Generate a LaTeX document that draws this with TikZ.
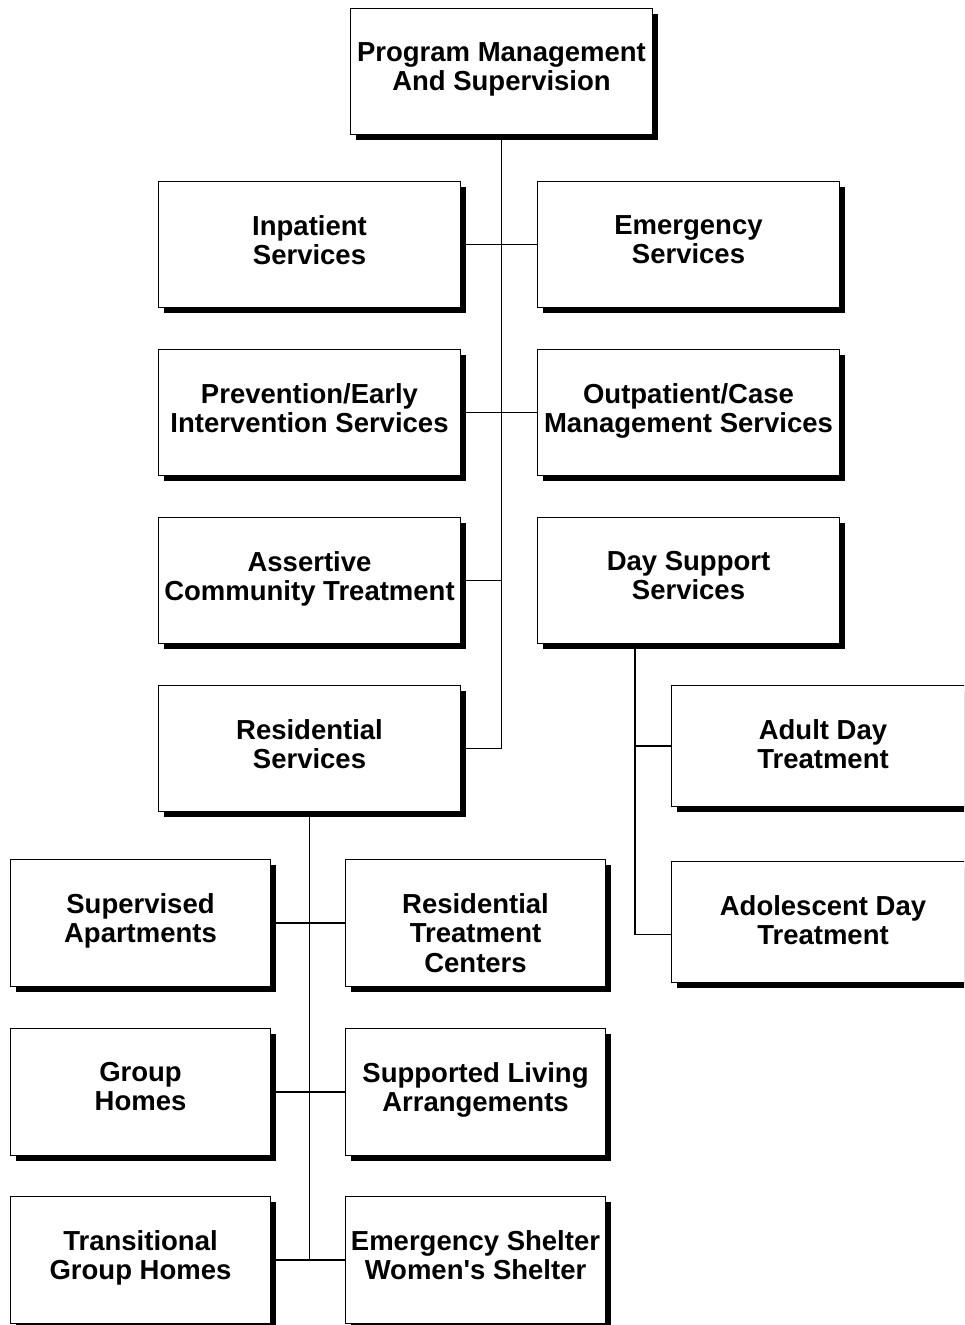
\documentclass[tikz,border=0pt]{standalone}
\usepackage{fontspec}
\setmainfont{Liberation Sans}[Ligatures=TeXOff]
\usetikzlibrary{shadows}
\begin{document}
\begin{tikzpicture}[x=1pt,y=-1pt,
  box/.style={draw, line width=1pt, fill=white, inner sep=0pt, anchor=north west,
    minimum width=302pt, minimum height=126pt,
    drop shadow={shadow xshift=5pt, shadow yshift=-5pt, fill=black, opacity=1}},
  smallbox/.style={box, minimum width=260pt, minimum height=127pt},
  subbox/.style={box, minimum width=303pt, minimum height=121pt},
  lbl/.style={font=\bfseries\fontsize{27.5}{29.5}\selectfont, align=center, inner sep=0pt, anchor=north},
  conn/.style={line width=1.6pt}]
\clip (0,0) rectangle (964,1325);
\fill[white] (0,0) rectangle (964,1325);
\coordinate (dj) at (635,643);
% boxes
\node[box] (top) at (350,8) {};
\node[box] (inp) at (158,181) {};
\node[box] (eme) at (537,181) {};
\node[box] (pre) at (158,349) {};
\node[box] (out) at (537,349) {};
\node[box] (ass) at (158,517) {};
\node[box] (day) at (537,517) {};
\node[box] (res) at (158,685) {};
\node[subbox] (adu) at (671,685) {};
\node[subbox] (ado) at (671,861) {};
\node[smallbox] (sup) at (10,859) {};
\node[smallbox] (rtc) at (345,859) {};
\node[smallbox] (grp) at (10,1028) {};
\node[smallbox] (sla) at (345,1028) {};
\node[smallbox] (tgh) at (10,1196) {};
\node[smallbox] (esh) at (345,1196) {};
% labels
\node[lbl] (ttop) at ([yshift=-34pt]top.north) {Program Management\\And Supervision};
\node[lbl] (tinp) at ([yshift=-34pt]inp.north) {Inpatient\\Services};
\node[lbl] (teme) at ([yshift=-34pt]eme.north) {Emergency\\Services};
\node[lbl] (tpre) at ([yshift=-34pt]pre.north) {Prevention/Early\\Intervention Services};
\node[lbl] (tout) at ([yshift=-34pt]out.north) {Outpatient/Case\\Management Services};
\node[lbl] (tass) at ([yshift=-34pt]ass.north) {Assertive\\Community Treatment};
\node[lbl] (tday) at ([yshift=-34pt]day.north) {Day Support\\Services};
\node[lbl] (tres) at ([yshift=-34pt]res.north) {Residential\\Services};
\node[lbl] (tadu) at ([yshift=-34pt]adu.north) {Adult Day\\Treatment};
\node[lbl] (tado) at ([yshift=-34pt]ado.north) {Adolescent Day\\Treatment};
\node[lbl] (tsup) at ([yshift=-34pt]sup.north) {Supervised\\Apartments};
\node[lbl] (trtc) at ([yshift=-34pt]rtc.north) {Residential\\Treatment\\Centers};
\node[lbl] (tgrp) at ([yshift=-34pt]grp.north) {Group\\Homes};
\node[lbl] (tsla) at ([yshift=-34pt]sla.north) {Supported Living\\Arrangements};
\node[lbl] (ttgh) at ([yshift=-34pt]tgh.north) {Transitional\\Group Homes};
\node[lbl] (tesh) at ([yshift=-34pt]esh.north) {Emergency Shelter\\Women's Shelter};
% connectors
\draw[conn] (top.south) -- (top.south |- res.east) -- (res.east);
\draw[conn] (inp.east) -- (eme.west);
\draw[conn] (pre.east) -- (out.west);
\draw[conn] (ass.east) -- (ass.east -| top.south);
\draw[conn] (dj) |- ([yshift=-12.5pt]ado.west);
\draw[conn] (adu.west) -- (adu.west -| dj);
\draw[conn] (res.south) -- (res.south |- tgh.east);
\draw[conn] (sup.east) -- (rtc.west);
\draw[conn] (grp.east) -- (sla.west);
\draw[conn] (tgh.east) -- (esh.west);
\end{tikzpicture}
\end{document}
